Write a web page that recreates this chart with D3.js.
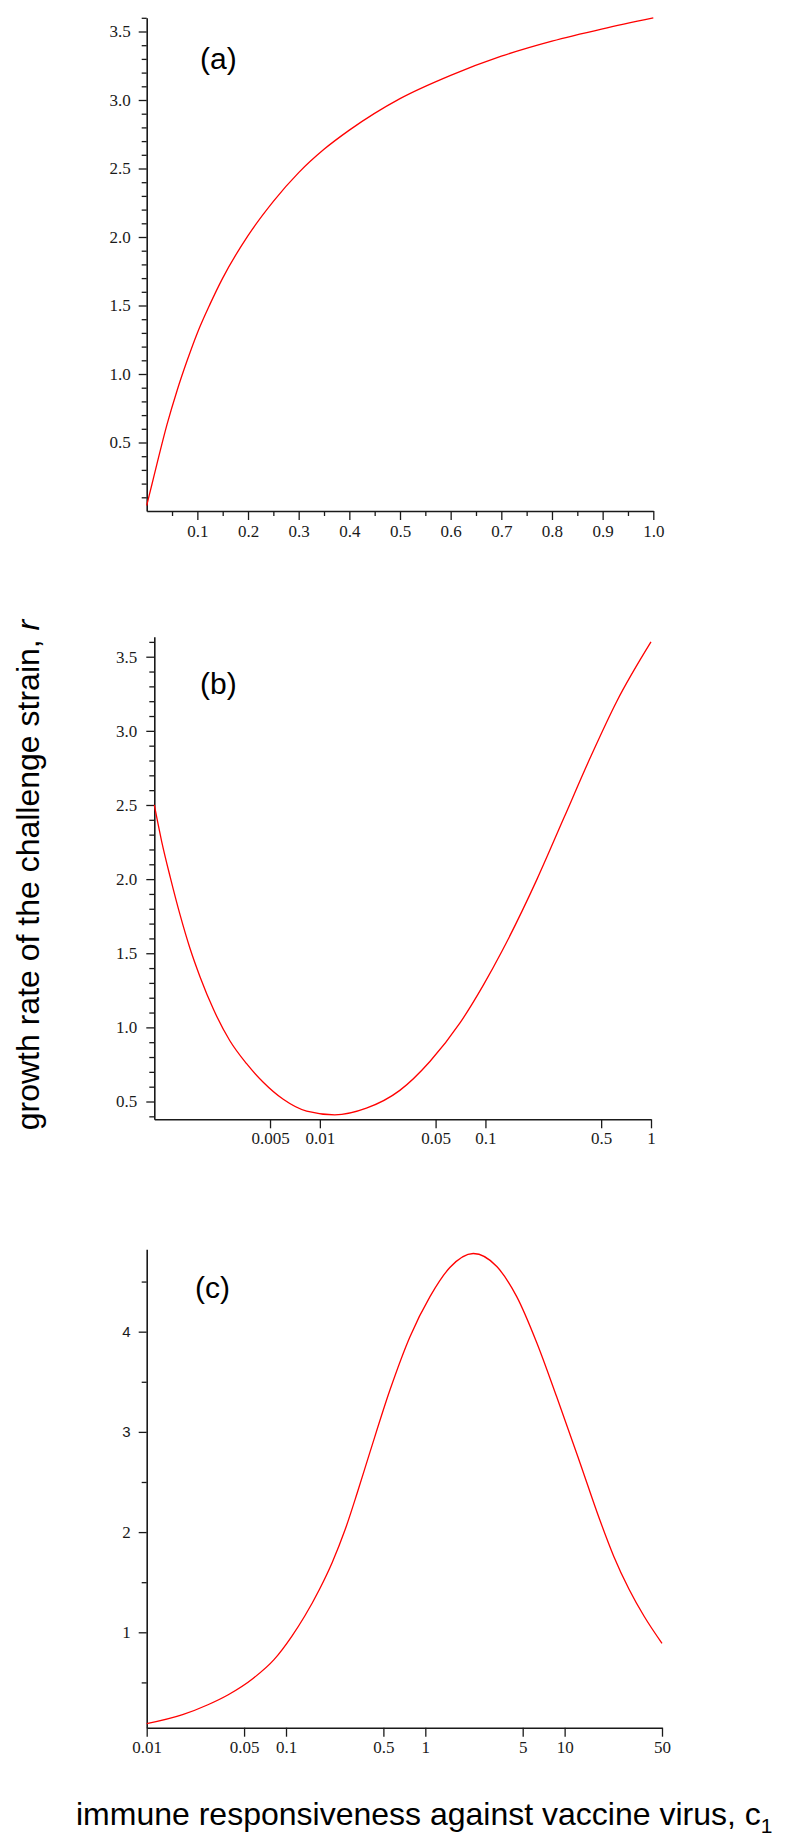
<!DOCTYPE html>
<html lang="en">
<head>
<meta charset="UTF-8">
<title>Growth rate of the challenge strain</title>
<script src="https://d3js.org/d3.v7.min.js"></script>
<style>
  body { margin: 0; background: #fff; }
  .tick-label { font-family: "Liberation Serif", "Times New Roman", serif; font-size: 17px; fill: #1a1a1a; }
  .tick-sans { font-family: "Liberation Sans", Arial, sans-serif; font-size: 15px; }
  .panel-label { font-family: "Liberation Sans", Arial, sans-serif; font-size: 30px; fill: #000; }
  .axis-title { font-family: "Liberation Sans", Arial, sans-serif; font-size: 32px; fill: #000; }
  .curve { fill: none; stroke: #ff0000; stroke-width: 1.3; }
</style>
</head>
<body>
<div id="chart"></div>
<script>

// panel (a): linear c1 axis
const aC1 = [0, 0.01, 0.02, 0.04, 0.06, 0.08, 0.1, 0.125, 0.15, 0.2, 0.25, 0.3, 0.35, 0.4, 0.5, 0.6, 0.7, 0.8, 0.9, 1.0];
const aRate = [0.04, 0.19, 0.34, 0.63, 0.88, 1.10, 1.30, 1.51, 1.70, 2.01, 2.26, 2.47, 2.64, 2.78, 3.01, 3.18, 3.32, 3.43, 3.52, 3.60];
const aXTicks = [0.1, 0.2, 0.3, 0.4, 0.5, 0.6, 0.7, 0.8, 0.9, 1.0];
const aYTicks = [0.5, 1.0, 1.5, 2.0, 2.5, 3.0, 3.5];

// panel (b): log c1 axis, 0.001 .. 1
const bC1 = [0.001, 0.00111, 0.00125, 0.00143, 0.00164, 0.00189, 0.00228, 0.00286, 0.00361, 0.00455, 0.00601, 0.00832, 0.0123, 0.0191, 0.0304, 0.0462, 0.0702, 0.0977, 0.126, 0.205, 0.297, 0.430, 0.622, 1];
const bRate = [2.50, 2.25, 2.01, 1.76, 1.535, 1.34, 1.12, 0.91, 0.755, 0.63, 0.515, 0.435, 0.41, 0.455, 0.575, 0.77, 1.03, 1.29, 1.515, 2.00, 2.41, 2.82, 3.20, 3.60];
const bXTicks = [0.005, 0.01, 0.05, 0.1, 0.5, 1];
const bYTicks = [0.5, 1.0, 1.5, 2.0, 2.5, 3.0, 3.5];

// panel (c): log c1 axis, 0.01 .. 50
const cC1 = [0.01, 0.0181, 0.0275, 0.0385, 0.0586, 0.082, 0.110, 0.136, 0.174, 0.215, 0.265, 0.326, 0.401, 0.558, 0.776, 1.08, 1.50, 2.21, 3.26, 4.53, 6.31, 8.77, 12.9, 17.9, 22.5, 29.0, 37.2, 50];
const cRate = [0.088, 0.178, 0.277, 0.377, 0.544, 0.727, 0.96, 1.16, 1.43, 1.70, 2.02, 2.40, 2.80, 3.42, 3.95, 4.35, 4.64, 4.78, 4.65, 4.35, 3.89, 3.35, 2.69, 2.12, 1.76, 1.43, 1.16, 0.89];
const cXTicks = [0.01, 0.05, 0.1, 0.5, 1, 5, 10, 50];
const cYTicks = [1, 2, 3, 4];

const svg = d3.select("#chart")
    .append("svg")
    .attr("width", 795)
    .attr("height", 1847);

// minor ticks every 0.1 (a, b), skipping the labelled ones
function minorTicks(from, to, step, major) {
    const out = [];
    for (let v = from; v <= to + 1e-9; v += step) {
        const r = Math.round(v * 100) / 100;
        if (!major.some(m => Math.abs(m - r) < 1e-6)) out.push(r);
    }
    return out;
}

function drawPanel(p) {
    const g = svg.append("g");

    // x axis
    g.append("g")
        .attr("transform", `translate(0,${p.y.range()[0]})`)
        .call(d3.axisBottom(p.x).tickValues(p.xTicks).tickFormat(p.xFmt)
            .tickSize(9).tickSizeOuter(0).tickPadding(p.xPad));
    if (p.xMinor.length) {
        g.append("g")
            .attr("transform", `translate(0,${p.y.range()[0]})`)
            .call(d3.axisBottom(p.x).tickValues(p.xMinor).tickFormat("").tickSize(5).tickSizeOuter(0))
            .select(".domain").remove();
    }

    // y axis
    const yAxis = g.append("g")
        .attr("transform", `translate(${p.x.range()[0]},0)`)
        .call(d3.axisLeft(p.y).tickValues(p.yTicks).tickFormat(p.yFmt)
            .tickSize(8).tickSizeOuter(0).tickPadding(p.yPad));
    g.append("g")
        .attr("transform", `translate(${p.x.range()[0]},0)`)
        .call(d3.axisLeft(p.y).tickValues(p.yMinor).tickFormat("").tickSize(5).tickSizeOuter(0))
        .select(".domain").remove();

    g.selectAll("g").attr("font-family", null).attr("font-size", null);
    g.selectAll(".domain").attr("stroke", "#1a1a1a").attr("stroke-width", 1.6);
    g.selectAll(".tick line").attr("stroke", "#1a1a1a").attr("stroke-width", 1.3);
    g.selectAll(".tick text").attr("class", "tick-label").attr("fill", null);

    // in (c) the upper y labels are set in a sans face
    if (p.sansAbove !== undefined) {
        yAxis.selectAll(".tick text")
            .filter(d => d >= p.sansAbove)
            .attr("class", "tick-label tick-sans");
    }

    const line = d3.line()
        .x((d, i) => p.x(p.c[i]))
        .y(d => p.y(d))
        .curve(d3.curveMonotoneX);

    g.append("path")
        .datum(p.r)
        .attr("class", "curve")
        .attr("d", line);

    g.append("text")
        .attr("class", "panel-label")
        .attr("x", p.labelX)
        .attr("y", p.labelY)
        .text(p.label);
}

drawPanel({
    x: d3.scaleLinear().domain([0, 1]).range([146.7, 653.3]),
    y: d3.scaleLinear().domain([0, 3.6]).range([511, 17.8]),
    xTicks: aXTicks, xMinor: minorTicks(0.05, 0.95, 0.1, aXTicks),
    yTicks: aYTicks, yMinor: minorTicks(0.1, 3.6, 0.1, aYTicks),
    xFmt: d3.format(".1f"), yFmt: d3.format(".1f"),
    xPad: 5, yPad: 8,
    c: aC1, r: aRate,
    label: "(a)", labelX: 200, labelY: 69
});

drawPanel({
    x: d3.scaleLog().domain([0.001, 1]).range([154.3, 651]),
    y: d3.scaleLinear().domain([0.38, 3.635]).range([1119.3, 636.7]),
    xTicks: bXTicks, xMinor: [],
    yTicks: bYTicks, yMinor: minorTicks(0.4, 3.6, 0.1, bYTicks),
    xFmt: d => String(d), yFmt: d3.format(".1f"),
    xPad: 4, yPad: 9,
    c: bC1, r: bRate,
    label: "(b)", labelX: 200, labelY: 694
});

drawPanel({
    x: d3.scaleLog().domain([0.01, 50]).range([146.7, 662]),
    y: d3.scaleLinear().domain([0.048, 4.822]).range([1727.7, 1249.3]),
    xTicks: cXTicks, xMinor: [],
    yTicks: cYTicks, yMinor: [0.5, 1.5, 2.5, 3.5, 4.5],
    xFmt: d => String(d), yFmt: d => String(d),
    xPad: 4, yPad: 8,
    c: cC1, r: cRate,
    sansAbove: 3,
    label: "(c)", labelX: 195, labelY: 1298
});

// shared axis titles
const yTitle = svg.append("text")
    .attr("class", "axis-title")
    .attr("text-anchor", "middle")
    .attr("transform", "translate(39,875) rotate(-90)");
yTitle.append("tspan").text("growth rate of the challenge strain, ");
yTitle.append("tspan").attr("font-style", "italic").text("r");

const xTitle = svg.append("text")
    .attr("class", "axis-title")
    .attr("x", 76)
    .attr("y", 1825);
xTitle.append("tspan").text("immune responsiveness against vaccine virus, c");
xTitle.append("tspan").attr("font-size", "21px").attr("dy", 8).text("1");

</script>
</body>
</html>
